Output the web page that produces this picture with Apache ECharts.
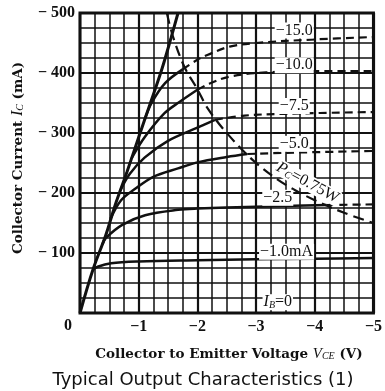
<!DOCTYPE html>
<html><head><meta charset="utf-8">
<script src="https://cdn.jsdelivr.net/npm/echarts@6/dist/echarts.min.js"></script>
<style>html,body{margin:0;padding:0;background:#fff}#c{width:385px;height:391px}</style>
</head><body><div id="c"></div>
<script>
// Axis ranges (V, mA)
const xTicks = [0, -1, -2, -3, -4, -5];
const yTicks = [0, -100, -200, -300, -400, -500];

// Saturation (steep) line
const satCurve = [[0,0],[-0.22,-72],[-0.44,-130],[-0.6,-180],[-0.8,-235],[-1.0,-293],[-1.2,-350],[-1.4,-408],[-1.55,-458],[-1.67,-500]];

// Base current curves: solid part, then dashed part beyond Pc
const ib1Solid = [[-0.22,-72],[-0.3,-77],[-0.53,-83],[-1.0,-86],[-2.0,-88],[-3.0,-89.5],[-4.0,-90.5],[-5.0,-91.5]];
const ib25Solid = [[-0.38,-114],[-0.44,-125],[-0.72,-147],[-1.11,-163],[-1.67,-172],[-2.0,-174],[-3.0,-177],[-4.2,-180]];
const ib25Dash = [[-4.2,-180],[-5.0,-181]];
const ib5Solid = [[-0.52,-157],[-0.7,-188],[-0.94,-207],[-1.25,-227],[-1.67,-241],[-2.0,-251],[-2.5,-260],[-2.85,-265]];
const ib5Dash = [[-2.85,-265],[-3.5,-267],[-5.0,-270]];
const ib75Solid = [[-0.68,-203],[-0.85,-232],[-1.1,-259],[-1.5,-287],[-2.0,-309],[-2.3,-322]];
const ib75Dash = [[-2.3,-322],[-2.8,-329],[-3.5,-332],[-5.0,-335]];
const ib10Solid = [[-0.88,-258],[-1.11,-294],[-1.44,-333],[-1.7,-352],[-2.0,-372]];
const ib10Dash = [[-2.0,-372],[-2.2,-382],[-2.55,-394],[-3.17,-401],[-4.0,-403],[-5.0,-403]];
const ib15Solid = [[-1.1,-322],[-1.22,-350],[-1.45,-383],[-1.75,-406]];
const ib15Dash = [[-1.75,-406],[-2.0,-422],[-2.17,-430],[-2.55,-444],[-3.0,-450],[-4.0,-456],[-5.0,-460]];

// Collector dissipation limit Pc = 0.75 W
const pcCurve = [[-1.48,-500],[-1.58,-462],[-1.78,-410],[-2.0,-373],[-2.17,-342],[-2.5,-300],[-3.0,-250],[-3.5,-214],[-4.0,-188],[-4.5,-167],[-5.0,-150]];

// Curve label texts
const curveLabelTexts = ['−15.0', '−10.0', '−7.5', '−5.0', '−2.5', '−1.0mA'];

// Label anchors (data coordinates) – layout only
const labelAnchors = [[-3.65,-471],[-3.65,-413],[-3.65,-345],[-3.65,-282],[-3.37,-192],[-3.52,-102]];
const ibZeroAnchor = [-3.37,-18];
const pcAnchor = [-3.88,-217];

const INK = '#111';
const chart = echarts.init(document.getElementById('c'), null, {renderer: 'canvas'});

function solid(data, w) {
  return {type: 'line', data: data, symbol: 'none', smooth: 0.35, silent: true,
    lineStyle: {color: INK, width: w}, z: 5};
}
function dashed(data, w, dash) {
  return {type: 'line', data: data, symbol: 'none', smooth: 0.35, silent: true,
    lineStyle: {color: INK, width: w, type: dash}, z: 5};
}
const tickFont = {color: INK, fontFamily: 'Liberation Serif', fontWeight: 'bold', fontSize: 16};

chart.setOption({
  animation: false,
  backgroundColor: '#fff',
  grid: {left: 80, top: 13, width: 300, height: 300, show: true, borderColor: INK, borderWidth: 3},
  xAxis: {
    type: 'value', min: xTicks[xTicks.length - 1], max: xTicks[0], interval: 1, inverse: true,
    axisLine: {show: false}, axisTick: {show: false},
    axisLabel: Object.assign({margin: 6, formatter: v => v === 0 ? '' : '−' + Math.abs(v)}, tickFont),
    splitLine: {show: true, lineStyle: {color: INK, width: 2.2}},
    minorTick: {show: false, splitNumber: 4},
    minorSplitLine: {show: true, lineStyle: {color: INK, width: 1.5}}
  },
  yAxis: {
    type: 'value', min: yTicks[yTicks.length - 1], max: yTicks[0], interval: 100, inverse: true,
    axisLine: {show: false}, axisTick: {show: false},
    axisLabel: Object.assign({margin: 5, formatter: v => v === 0 ? '' : '− ' + Math.abs(v)}, tickFont),
    splitLine: {show: true, lineStyle: {color: INK, width: 2.2}},
    minorTick: {show: false, splitNumber: 4},
    minorSplitLine: {show: true, lineStyle: {color: INK, width: 1.5}}
  },
  series: [
    solid(satCurve, 3),
    solid(ib1Solid, 2.5),
    solid(ib25Solid, 2.5), dashed(ib25Dash, 2.2, [8, 5]),
    solid(ib5Solid, 2.5), dashed(ib5Dash, 2.2, [8, 5]),
    solid(ib75Solid, 2.5), dashed(ib75Dash, 2.2, [8, 5]),
    solid(ib10Solid, 2.5), dashed(ib10Dash, 2.2, [8, 5]),
    solid(ib15Solid, 2.5), dashed(ib15Dash, 2.2, [8, 5]),
    dashed(pcCurve, 2.2, [11, 6])
  ]
});

const serif = 'Liberation Serif';
const titleSerif = '"DejaVu Serif"';
const g = [];
curveLabelTexts.forEach((t, i) => {
  const p = chart.convertToPixel({gridIndex: 0}, labelAnchors[i]);
  g.push({type: 'text', x: p[0], y: p[1], z: 20,
    style: {text: t, fill: INK, font: '16px ' + serif, align: 'center', verticalAlign: 'middle',
      backgroundColor: '#fff', padding: [0, 1]}});
});
const pz = chart.convertToPixel({gridIndex: 0}, ibZeroAnchor);
g.push({type: 'text', x: pz[0], y: pz[1], z: 20,
  style: {text: '{i|I}{s|B}{n|=0}', align: 'center', verticalAlign: 'middle', backgroundColor: '#fff', padding: [0, 1],
    rich: {i: {font: 'italic 16px ' + serif, fill: INK}, s: {font: 'italic 10px ' + serif, fill: INK, padding: [6, 0, 0, 0]}, n: {font: '16px ' + serif, fill: INK}}}});
const pp = chart.convertToPixel({gridIndex: 0}, pcAnchor);
g.push({type: 'text', x: pp[0], y: pp[1], rotation: -0.5, z: 20,
  style: {text: '{i|P}{s|C}{n|=0.75W}', align: 'center', verticalAlign: 'middle', backgroundColor: '#fff', padding: [0, 1],
    rich: {i: {font: 'italic 16px ' + serif, fill: INK}, s: {font: 'italic 10px ' + serif, fill: INK, padding: [6, 0, 0, 0]}, n: {font: '16px ' + serif, fill: INK}}}});
// origin "0" label
g.push({type: 'text', x: 68, y: 326, style: {text: '0', fill: INK, font: 'bold 16px ' + serif, align: 'center', verticalAlign: 'middle'}});
// x-axis title
g.push({type: 'text', x: 229, y: 354,
  style: {text: '{b|Collector to Emitter Voltage }{i|V}{s|CE}{b| (V)}', align: 'center', verticalAlign: 'middle',
    rich: {b: {font: 'bold 13.5px ' + titleSerif, fill: INK}, i: {font: 'italic 15px ' + serif, fill: INK}, s: {font: 'italic 10px ' + serif, fill: INK, padding: [5, 0, 0, 0]}}}});
// y-axis title
g.push({type: 'text', x: 18, y: 158, rotation: Math.PI / 2, z: 10,
  style: {text: '{b|Collector Current }{i|I}{s|C}{b| (mA)}', align: 'center', verticalAlign: 'middle',
    rich: {b: {font: 'bold 13.5px ' + titleSerif, fill: INK}, i: {font: 'italic 16px ' + serif, fill: INK}, s: {font: 'italic 10px ' + serif, fill: INK, padding: [5, 0, 0, 0]}}}});
// caption
g.push({type: 'text', x: 203, y: 380,
  style: {text: 'Typical Output Characteristics (1)', fill: INK, font: '18px "DejaVu Sans"', align: 'center', verticalAlign: 'middle'}});
chart.setOption({graphic: g});
</script>
</body></html>
